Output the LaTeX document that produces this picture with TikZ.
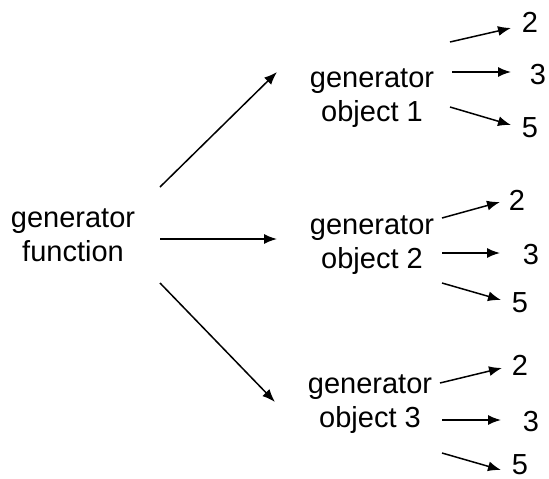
\documentclass[tikz,border=0pt]{standalone}
\usepackage{fontspec}
\setmainfont{Liberation Sans}
\usetikzlibrary{calc,arrows.meta}
\begin{document}
\begin{tikzpicture}[x=1pt,y=-1pt,
  txt/.style={inner sep=0pt,align=center,font=\fontsize{29}{34}\selectfont},
  num/.style={inner sep=0pt,font=\fontsize{29}{34}\selectfont},
  arr/.style={-{Latex[length=13pt,width=10pt]},line width=1.5pt}]
\useasboundingbox (0,0) rectangle (549,479);
\node[txt] (fn) at (73,235) {generator\\function};
\node[txt] (o1) at (372,98) {generator\\object 1};
\node[txt] (o2) at (372,245) {generator\\object 2};
\node[txt] (o3) at (370,404) {generator\\object 3};
\node[num] (a2) at (530,22) {2};
\node[num] (a3) at (538,75) {3};
\node[num] (a5) at (530,128) {5};
\node[num] (b2) at (517,200) {2};
\node[num] (b3) at (531,255) {3};
\node[num] (b5) at (520,303) {5};
\node[num] (c2) at (520,365) {2};
\node[num] (c3) at (531,422) {3};
\node[num] (c5) at (520,465) {5};
\draw[arr] ($(fn)+(87,-48)$) -- ($(o1)+(-95,-26)$);
\draw[arr] ($(fn)+(87,4)$) -- ($(o2)+(-95,-6)$);
\draw[arr] ($(fn)+(87,48)$) -- ($(o3)+(-95,-2)$);
\draw[arr] ($(o1)+(78,-56)$) -- ($(a2)+(-19,6)$);
\draw[arr] ($(o1)+(80,-26)$) -- ($(a3)+(-27,-3)$);
\draw[arr] ($(o1)+(78,9)$) -- ($(a5)+(-19,-3)$);
\draw[arr] ($(o2)+(70,-27)$) -- ($(b2)+(-17,2)$);
\draw[arr] ($(o2)+(70,8)$) -- ($(b3)+(-31,-2)$);
\draw[arr] ($(o2)+(70,38)$) -- ($(b5)+(-19,-3)$);
\draw[arr] ($(o3)+(70,-21)$) -- ($(c2)+(-18,3)$);
\draw[arr] ($(o3)+(72,16)$) -- ($(c3)+(-30,-2)$);
\draw[arr] ($(o3)+(72,49)$) -- ($(c5)+(-19,5)$);
\end{tikzpicture}
\end{document}
